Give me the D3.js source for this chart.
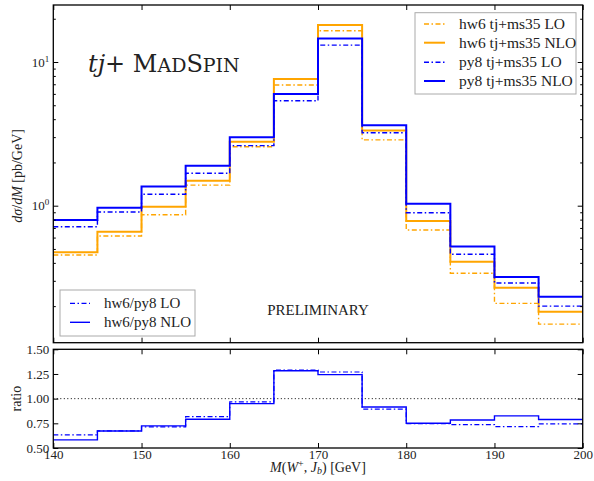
<!DOCTYPE html>
<html>
<head>
<meta charset="utf-8">
<script src="https://cdn.jsdelivr.net/npm/d3@7"></script>
<style>
  body { margin: 0; background: #fff; }
  text { font-family: "Liberation Serif", "DejaVu Serif", serif; fill: #222; }
</style>
</head>
<body>
<svg id="chart" width="594" height="481"></svg>
<script>
// bin edges of M(W+, J_b) in GeV
const binEdges = [140, 145, 150, 155, 160, 165, 170, 175, 180, 185, 190, 195, 200];

// dsigma/dM [pb/GeV], one value per bin
const hw6LO  = [0.454, 0.615, 0.865, 1.39, 2.57, 6.92, 16.5, 2.87, 0.677, 0.339, 0.209, 0.150];
const hw6NLO = [0.474, 0.659, 0.984, 1.49, 2.79, 7.62, 18.1, 3.33, 0.783, 0.408, 0.269, 0.183];
const py8LO  = [0.714, 0.904, 1.20, 1.68, 2.62, 5.38, 13.1, 3.22, 0.894, 0.459, 0.290, 0.200];
const py8NLO = [0.795, 0.969, 1.36, 1.90, 2.99, 5.99, 14.6, 3.63, 1.03, 0.519, 0.319, 0.232];

// ratio panel hw6/py8
const ratioLO  = [0.633, 0.673, 0.714, 0.818, 0.967, 1.29, 1.27, 0.893, 0.747, 0.737, 0.717, 0.744];
const ratioNLO = [0.582, 0.673, 0.724, 0.791, 0.950, 1.283, 1.243, 0.916, 0.751, 0.784, 0.825, 0.788];

const xTicks = [140, 150, 160, 170, 180, 190, 200];
const ratioTicks = [0.5, 0.75, 1.0, 1.25, 1.5];

const svg = d3.select('#chart');

const box = { left: 53.3, right: 582.7, top: 5, mid: 342.7, rtop: 349.3, bottom: 448 };

const x = d3.scaleLinear().domain([140, 200]).range([box.left, box.right]);
const y = d3.scaleLog().domain([0.1113, 24.93]).range([box.mid, box.top]);
const yr = d3.scaleLinear().domain([0.5, 1.5]).range([box.bottom, box.rtop]);

// clip paths
const defs = svg.append('defs');
defs.append('clipPath').attr('id', 'clipMain').append('rect')
    .attr('x', box.left).attr('y', box.top)
    .attr('width', box.right - box.left).attr('height', box.mid - box.top);
defs.append('clipPath').attr('id', 'clipRatio').append('rect')
    .attr('x', box.left).attr('y', box.rtop)
    .attr('width', box.right - box.left).attr('height', box.bottom - box.rtop);

// turn bin values into step points
const stepPoints = vals => {
    const pts = vals.map((v, i) => [binEdges[i], v]);
    pts.push([binEdges[binEdges.length - 1], vals[vals.length - 1]]);
    return pts;
};

const mainLine = d3.line().x(d => x(d[0])).y(d => y(d[1])).curve(d3.curveStepAfter);
const ratioLine = d3.line().x(d => x(d[0])).y(d => yr(d[1])).curve(d3.curveStepAfter);

const dashDot = '5,2.5,1.5,2.5';

const series = [
    { name: 'hw6 tj+ms35 LO',  vals: hw6LO,  color: 'orange', width: 1.4, dash: dashDot },
    { name: 'hw6 tj+ms35 NLO', vals: hw6NLO, color: 'orange', width: 2,   dash: null },
    { name: 'py8 tj+ms35 LO',  vals: py8LO,  color: 'blue',   width: 1.4, dash: dashDot },
    { name: 'py8 tj+ms35 NLO', vals: py8NLO, color: 'blue',   width: 2,   dash: null }
];

const mainG = svg.append('g').attr('clip-path', 'url(#clipMain)');
series.forEach(s => {
    mainG.append('path')
        .datum(stepPoints(s.vals))
        .attr('d', mainLine)
        .attr('fill', 'none')
        .attr('stroke', s.color)
        .attr('stroke-width', s.width)
        .attr('stroke-dasharray', s.dash);
});

// ratio panel
const ratioG = svg.append('g').attr('clip-path', 'url(#clipRatio)');
ratioG.append('line')
    .attr('x1', box.left).attr('x2', box.right)
    .attr('y1', yr(1)).attr('y2', yr(1))
    .attr('stroke', '#000').attr('stroke-width', 1)
    .attr('stroke-dasharray', '1,2.5');

const ratioSeries = [
    { name: 'hw6/py8 LO',  vals: ratioLO,  width: 1.2, dash: dashDot },
    { name: 'hw6/py8 NLO', vals: ratioNLO, width: 1.4, dash: null }
];
ratioSeries.forEach(s => {
    ratioG.append('path')
        .datum(stepPoints(s.vals))
        .attr('d', ratioLine)
        .attr('fill', 'none')
        .attr('stroke', 'blue')
        .attr('stroke-width', s.width)
        .attr('stroke-dasharray', s.dash);
});

// axes (inward ticks on all sides)
const addAxis = (axis, tx, ty) => {
    const g = svg.append('g')
        .attr('transform', `translate(${tx},${ty})`)
        .style('font-family', '"Liberation Serif", serif')
        .style('font-size', '13px')
        .call(axis);
    g.select('.domain').remove();
    g.selectAll('line').attr('stroke', '#000').attr('stroke-width', 1);
    g.selectAll('text').attr('fill', '#222');
    return g;
};

const majorY = [1, 10];
const minorY = [];
[0.1, 1, 10].forEach(dec => {
    for (let k = 2; k <= 9; k++) minorY.push(dec * k);
});
const minorYIn = minorY.filter(v => v > 0.1113 && v < 24.93);

// main panel
addAxis(d3.axisTop(x).tickValues(xTicks).tickSize(-5).tickFormat(''), 0, box.top);
addAxis(d3.axisBottom(x).tickValues(xTicks).tickSize(-5).tickFormat(''), 0, box.mid);
addAxis(d3.axisLeft(y).tickValues(minorYIn).tickSize(-2.5).tickFormat(''), box.left, 0);
addAxis(d3.axisRight(y).tickValues(minorYIn).tickSize(-2.5).tickFormat(''), box.right, 0);
addAxis(d3.axisRight(y).tickValues(majorY).tickSize(-5).tickFormat(''), box.right, 0);
const yMain = addAxis(d3.axisLeft(y).tickValues(majorY).tickSize(-5).tickFormat(''), box.left, 0);

// 10^n labels
yMain.selectAll('.tick').each(function(d) {
    const t = d3.select(this).append('text')
        .attr('x', -4)
        .attr('y', 4)
        .attr('text-anchor', 'end')
        .style('font-size', '13px');
    t.append('tspan').text('10');
    t.append('tspan').attr('dy', -5).style('font-size', '9px').text(Math.round(Math.log10(d)));
});

// ratio panel axes
addAxis(d3.axisTop(x).tickValues(xTicks).tickSize(-5).tickFormat(''), 0, box.rtop);
addAxis(d3.axisBottom(x).tickValues(xTicks).tickSize(-5).tickPadding(2).tickFormat(d3.format('d')), 0, box.bottom);
addAxis(d3.axisLeft(yr).tickValues(ratioTicks).tickSize(-5).tickPadding(4).tickFormat(d3.format('.2f')), box.left, 0);
addAxis(d3.axisRight(yr).tickValues(ratioTicks).tickSize(-5).tickFormat(''), box.right, 0);

// frames
[[box.top, box.mid], [box.rtop, box.bottom]].forEach(([t, b]) => {
    svg.append('rect')
        .attr('x', box.left).attr('y', t)
        .attr('width', box.right - box.left).attr('height', b - t)
        .attr('fill', 'none').attr('stroke', '#000').attr('stroke-width', 1.3);
});

// axis labels
const yLab = svg.append('text')
    .attr('transform', `translate(22,${(box.top + box.mid) / 2 + 2}) rotate(-90)`)
    .attr('text-anchor', 'middle')
    .style('font-size', '14px');
yLab.append('tspan').style('font-style', 'italic').text('dσ');
yLab.append('tspan').text('/');
yLab.append('tspan').style('font-style', 'italic').text('dM');
yLab.append('tspan').text(' [pb/GeV]');

svg.append('text')
    .attr('transform', `translate(21,${yr(1)}) rotate(-90)`)
    .attr('text-anchor', 'middle')
    .style('font-size', '14px')
    .text('ratio');

const xLab = svg.append('text')
    .attr('x', (box.left + box.right) / 2)
    .attr('y', 472)
    .attr('text-anchor', 'middle')
    .style('font-size', '14px');
xLab.append('tspan').style('font-style', 'italic').text('M');
xLab.append('tspan').text('(');
xLab.append('tspan').style('font-style', 'italic').text('W');
xLab.append('tspan').attr('dy', -5).style('font-size', '10px').text('+');
xLab.append('tspan').attr('dy', 5).text(', ');
xLab.append('tspan').style('font-style', 'italic').text('J');
xLab.append('tspan').attr('dy', 2).style('font-size', '10px').style('font-style', 'italic').text('b');
xLab.append('tspan').attr('dy', -2).text(') [GeV]');

// title
const title = svg.append('text')
    .attr('x', 88)
    .attr('y', 72)
    .style('font-family', '"DejaVu Serif", serif')
    .style('font-size', '24px');
title.append('tspan').style('font-style', 'italic').text('tj');
title.append('tspan').text('+ M');
title.append('tspan').style('font-size', '19px').text('AD');
title.append('tspan').text('S');
title.append('tspan').style('font-size', '19px').text('PIN');

svg.append('text')
    .attr('x', 318)
    .attr('y', 315)
    .attr('text-anchor', 'middle')
    .style('font-size', '15px')
    .text('PRELIMINARY');

// legends
const drawLegend = (items, bx, by, bw, bh, sx0, sx1, tx, rowY, fs) => {
    svg.append('rect')
        .attr('x', bx).attr('y', by).attr('width', bw).attr('height', bh)
        .attr('fill', '#fff').attr('stroke', '#aaa').attr('stroke-width', 1);
    items.forEach((s, i) => {
        svg.append('line')
            .attr('x1', sx0).attr('x2', sx1)
            .attr('y1', rowY[i]).attr('y2', rowY[i])
            .attr('stroke', s.color || 'blue')
            .attr('stroke-width', s.width)
            .attr('stroke-dasharray', s.dash);
        svg.append('text')
            .attr('x', tx).attr('y', rowY[i] + 5)
            .style('font-size', fs)
            .text(s.name);
    });
};

drawLegend(series, 415, 12.7, 161, 81.3, 424, 445, 459, [24, 42.7, 62.3, 81], '15.5px');
drawLegend(ratioSeries, 60, 290, 135, 46, 70, 90, 104, [303.3, 322.3], '15px');
</script>
</body>
</html>
